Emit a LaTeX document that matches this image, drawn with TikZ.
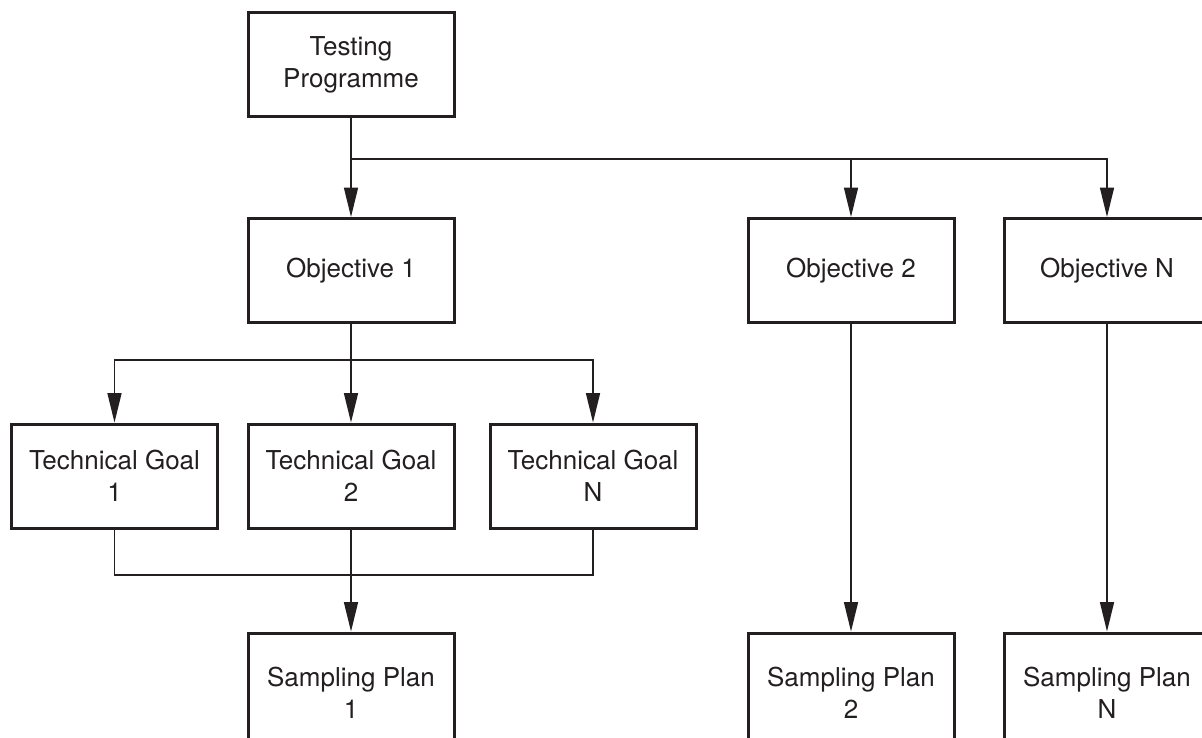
\documentclass[tikz,border=0pt]{standalone}
\usepackage{fontspec}
\setmainfont{TeX Gyre Heros}
\usetikzlibrary{arrows.meta}
\definecolor{ink}{HTML}{231F20}
\tikzset{
  box/.style={draw=ink, line width=2.25pt, minimum width=154.5pt, minimum height=78pt,
    inner sep=0pt, align=center, text=ink, font=\fontsize{19.5}{24}\selectfont},
  tallbox/.style={box, minimum height=90pt},
  conn/.style={draw=ink, line width=1pt},
  arr/.style={conn, -{Triangle[length=22pt, width=10.5pt]}}
}
\begin{document}
\begin{tikzpicture}[x=0.75pt, y=-0.75pt]
\useasboundingbox (0,0) rectangle (1202,738);
\clip (0,0) rectangle (1202,738);
\node[box] (tp) at (351,65) {Testing\\Programme};
\node[box] (obj1) at (351,270.5) {Objective 1};
\node[box] (obj2) at (851,270.5) {Objective 2};
\node[box] (objN) at (1107,270.5) {Objective N};
\node[box] (tg1) at (114.5,476) {Technical Goal\\1};
\node[box] (tg2) at (351,476) {Technical Goal\\2};
\node[box] (tgN) at (593,476) {Technical Goal\\N};
\node[tallbox] (sp1) at (351,693) {Sampling Plan\\1};
\node[tallbox] (sp2) at (851,693) {Sampling Plan\\2};
\node[tallbox] (spN) at (1107,693) {Sampling Plan\\N};
\coordinate (b1) at (351,159);
\coordinate (b2) at (351,360);
\coordinate (b3) at (351,575);
% level 1
\draw[arr] (tp.south) -- (obj1.north);
\draw[arr] (b1) -| (objN.north);
\draw[arr] (b1 -| obj2.north) -- (obj2.north);
% level 2
\draw[arr] (obj1.south) -- (tg2.north);
\draw[arr] (b2) -| (tg1.north);
\draw[arr] (b2) -| (tgN.north);
% merge
\draw[conn] (tg1.south) |- (b3) -| (tgN.south);
\draw[arr] (tg2.south) -- (sp1.north);
% right columns
\draw[arr] (obj2.south) -- (sp2.north);
\draw[arr] (objN.south) -- (spN.north);
\end{tikzpicture}
\end{document}
